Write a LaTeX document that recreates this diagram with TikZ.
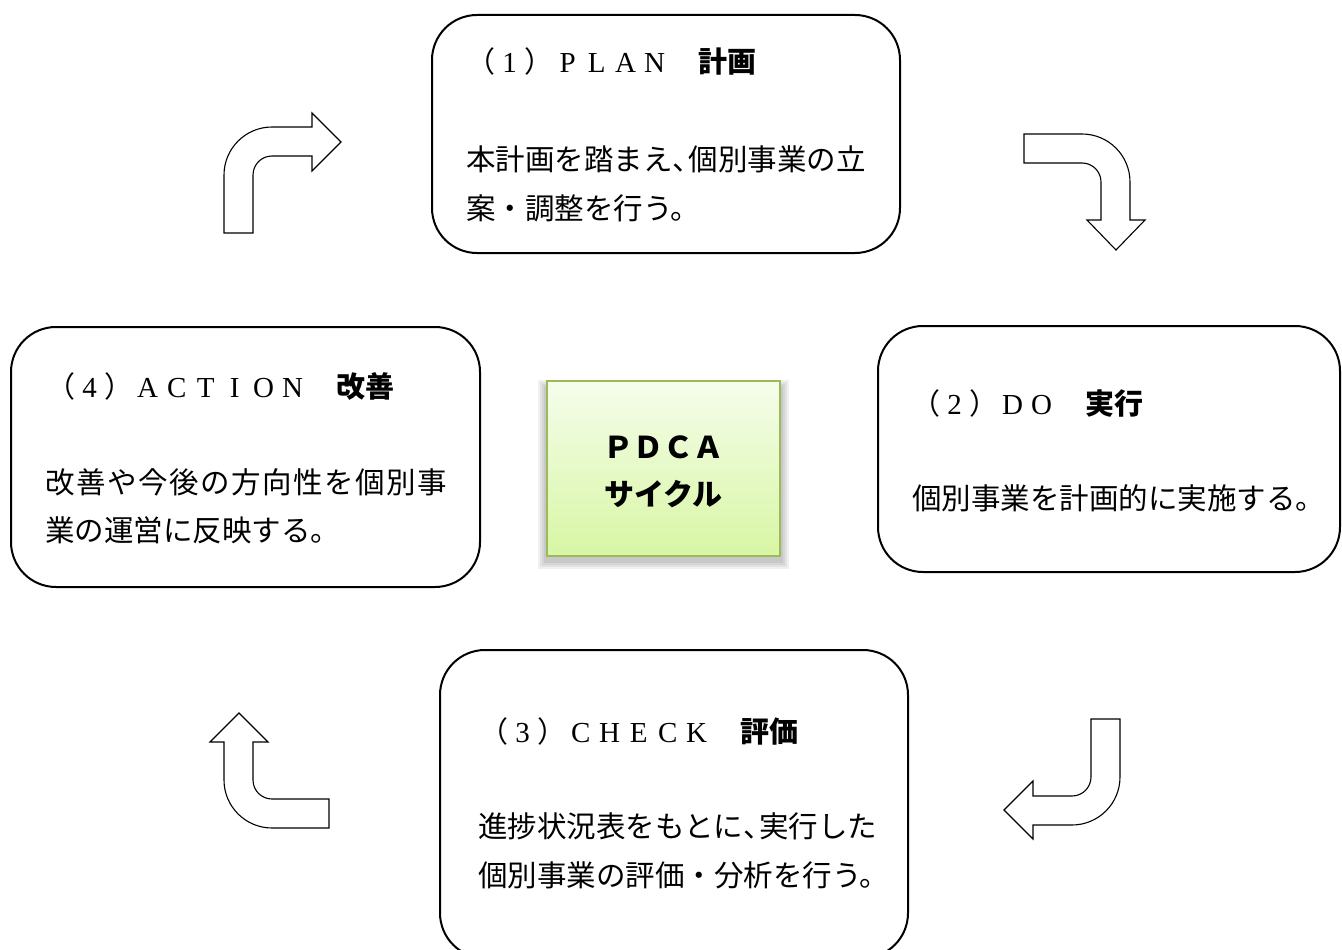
\documentclass[tikz,border=0pt]{standalone}
\usepackage{fontspec}
\newfontfamily\jp{Noto Sans CJK JP}
\newfontfamily\lser{Liberation Serif}
\newcommand\fwc[1]{\makebox[1em]{\lser #1}}
\newcommand\hcomma{\makebox[0.55em][l]{、}}
\definecolor{boxgreen}{HTML}{9BBB59}
\definecolor{filltop}{HTML}{F5FDEB}
\definecolor{fillbot}{HTML}{D8F6A4}
\begin{document}
\begin{tikzpicture}[x=1pt,y=-1pt,
  stagebox/.style={draw=black, line width=2pt, rounded corners=45pt, fill=white, inner sep=0pt},
  bentarrow/.style={draw=black, line width=1.1pt, fill=white, line join=miter},
  titletext/.style={anchor=base west, inner sep=0pt, font=\jp\fontsize{29}{29}\selectfont},
  bodytext/.style={anchor=base west, inner sep=0pt, font=\jp\fontsize{29.5}{29.5}\selectfont},
  centerbox/.style={draw=boxgreen, line width=1.5pt, top color=filltop, bottom color=fillbot, inner sep=0pt},
  centertext/.style={inner sep=0pt, align=center, font=\jp\bfseries\fontsize{30}{47}\selectfont}]
\useasboundingbox (0,0) rectangle (1342,950);

% stage boxes
\node[stagebox, minimum width=468pt, minimum height=238pt] (plan) at (666,134) {};
\node[stagebox, minimum width=462pt, minimum height=246pt] (do) at (1109,449) {};
\node[stagebox, minimum width=469pt, minimum height=260pt] (act) at (245.5,457) {};
\node[stagebox, minimum width=468pt, minimum height=308pt] (check) at (674,804) {};

% centre box shadow
\foreach \e in {0,2,4,6}
  \fill[black, opacity=0.06] (544-\e,386-\e) rectangle (783+\e,563+\e);
\node[centerbox, minimum width=233pt, minimum height=175pt] (pdca) at (663.5,468.5) {};
\node[centertext] (pdcatext) at (663.5,471.5) {ＰＤＣＡ\\サイクル};

% PLAN
\node[titletext] (plantitle) at (466,73) {（\fwc{1}）\fwc{P}\fwc{L}\fwc{A}\fwc{N}　{\bfseries 計画}};
\node[bodytext] (planl1) at (466,170) {本計画を踏まえ\hcomma 個別事業の立};
\node[bodytext] (planl2) at (466,219) {案・調整を行う。};

% DO
\node[titletext] (dotitle) at (911,414) {（\fwc{2}）\fwc{D}\fwc{O}　{\bfseries 実行}};
\node[bodytext] (dol1) at (912,509) {個別事業を計画的に実施する。};

% ACTION
\node[titletext] (acttitle) at (46,397) {（\fwc{4}）\fwc{A}\fwc{C}\fwc{T}\fwc{I}\fwc{O}\fwc{N}　{\bfseries 改善}};
\node[bodytext] (actl1) at (45,493) {\makebox[402pt][s]{改\hfill 善\hfill や\hfill 今\hfill 後\hfill の\hfill 方\hfill 向\hfill 性\hfill を\hfill 個\hfill 別\hfill 事}};
\node[bodytext] (actl2) at (45,541) {業の運営に反映する。};

% CHECK
\node[titletext] (checktitle) at (479,742) {（\fwc{3}）\fwc{C}\fwc{H}\fwc{E}\fwc{C}\fwc{K}　{\bfseries 評価}};
\node[bodytext] (checkl1) at (478,837) {進捗状況表をもとに\hcomma 実行した};
\node[bodytext] (checkl2) at (478,886) {個別事業の評価・分析を行う。};

% bent block arrows
\draw[bentarrow] (224,233) -- (224,175) .. controls (224,148.5) and (245.5,127) .. (272,127)
  -- (312,127) -- (312,113) -- (341,142) -- (312,171) -- (312,156) -- (272,156)
  .. controls (261.5,156) and (253,164.5) .. (253,175) -- (253,233) -- cycle;
\draw[bentarrow] (1024,134) -- (1082,134) .. controls (1108.5,134) and (1130,155.5) .. (1130,182)
  -- (1130,220) -- (1145,220) -- (1116,250) -- (1087,220) -- (1101,220) -- (1101,182)
  .. controls (1101,171.5) and (1092.5,163) .. (1082,163) -- (1024,163) -- cycle;
\draw[bentarrow] (1091,719) -- (1120,719) -- (1120,777) .. controls (1120,803.5) and (1098.5,825) .. (1072,825)
  -- (1033,825) -- (1033,839) -- (1004,810) -- (1033,781) -- (1033,796) -- (1072,796)
  .. controls (1082.5,796) and (1091,787.5) .. (1091,777) -- cycle;
\draw[bentarrow] (329,799) -- (272,799) .. controls (261.5,799) and (253,790.5) .. (253,780)
  -- (253,742) -- (268,742) -- (239,713) -- (210,742) -- (224,742) -- (224,780)
  .. controls (224,806.5) and (245.5,828) .. (272,828) -- (329,828) -- cycle;
\end{tikzpicture}
\end{document}
